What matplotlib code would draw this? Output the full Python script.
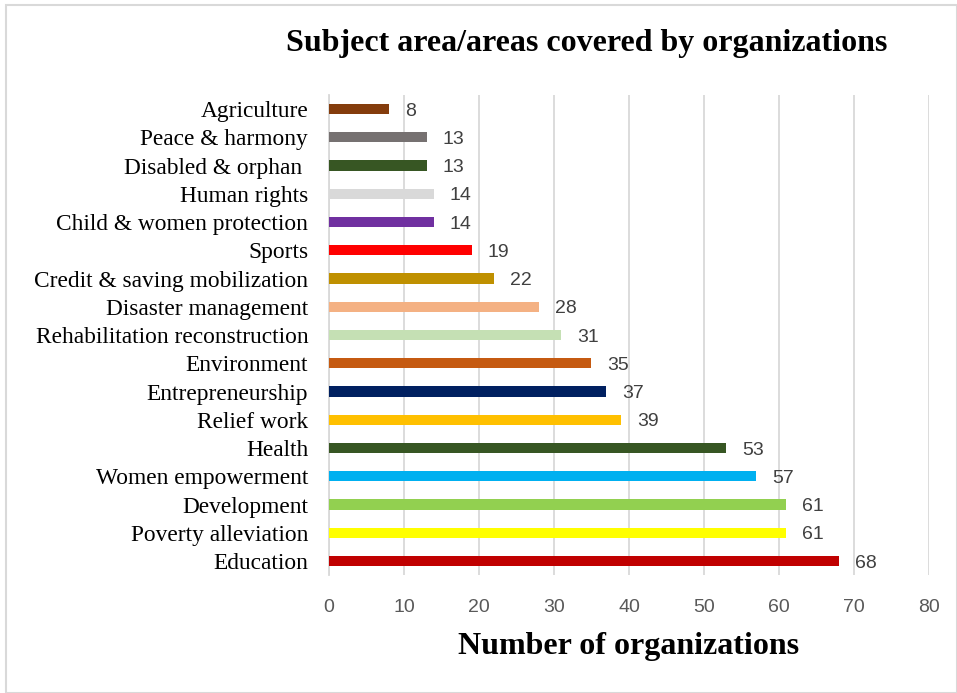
import matplotlib.pyplot as plt
from matplotlib.patches import Rectangle

# subject areas, listed from bottom bar to top bar
subjects = ['Education', 'Poverty alleviation', 'Development', 'Women empowerment',
            'Health', 'Relief work', 'Entrepreneurship', 'Environment',
            'Rehabilitation reconstruction', 'Disaster management',
            'Credit & saving mobilization', 'Sports', 'Child & women protection',
            'Human rights', 'Disabled & orphan ', 'Peace & harmony', 'Agriculture']
counts = [68, 61, 61, 57, 53, 39, 37, 35, 31, 28, 22, 19, 14, 14, 13, 13, 8]
bar_colors = ['#C00000', '#FFFF00', '#92D050', '#00B0F0', '#375623', '#FFC000',
              '#002060', '#C55A11', '#C5E0B4', '#F4B183', '#BF9000', '#FF0000',
              '#7030A0', '#D9D9D9', '#375623', '#767171', '#843C0C']
x_ticks = [0, 10, 20, 30, 40, 50, 60, 70, 80]

serif = ['Liberation Serif', 'DejaVu Serif']
sans = ['Liberation Sans', 'DejaVu Sans']

fig = plt.figure(figsize=(9.57, 6.93), dpi=100)
ax = fig.add_axes([0.3438, 0.170, 0.6269, 0.693])

pos = range(len(subjects))
ax.barh(pos, counts, height=0.36, color=bar_colors, zorder=3)

# value labels to the right of each bar
for y, v in zip(pos, counts):
    ax.text(v + 2.1, y, str(v), va='center_baseline', ha='left', fontsize=14,
            color='#404040', family=sans)

ax.set_xlim(0, 80)
ax.set_ylim(-0.5, len(subjects) - 0.5)
ax.set_xticks(x_ticks)
ax.set_xticklabels([str(t) for t in x_ticks], family=sans, fontsize=14, color='#595959')
ax.set_yticks(list(pos))
ax.set_yticklabels(subjects, family=serif, fontsize=16.8, color='black')
ax.tick_params(axis='both', length=0)
ax.tick_params(axis='x', pad=17)
ax.tick_params(axis='y', pad=15)

ax.grid(axis='x', color='#D9D9D9', linewidth=1.3, zorder=0)
for s in ['top', 'right', 'bottom']:
    ax.spines[s].set_visible(False)
ax.spines['left'].set_color('#D9D9D9')
ax.spines['left'].set_linewidth(1.3)

ax.set_xlabel('Number of organizations', family=serif, fontsize=23,
              fontweight='bold', labelpad=12)
fig.text(0.6129, 0.937, 'Subject area/areas covered by organizations', ha='center',
         va='center', family=serif, fontsize=23, fontweight='bold')

# thin frame around the chart
fig.patches.append(Rectangle((0.006, 0.0), 0.994, 0.993, transform=fig.transFigure,
                             fill=False, edgecolor='#D9D9D9', linewidth=1.5))

fig.savefig('out.png', dpi=100)
